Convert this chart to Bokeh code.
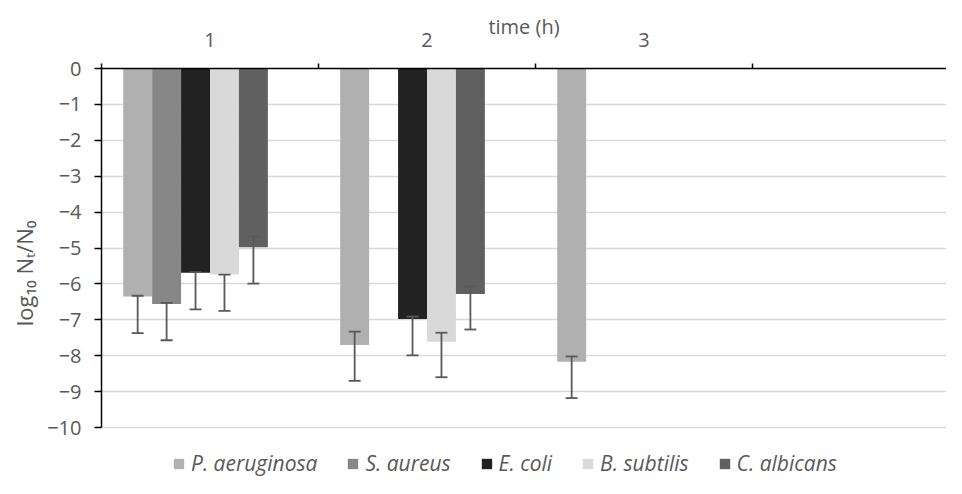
from bokeh.plotting import figure
from bokeh.models import (ColumnDataSource, LinearAxis, FixedTicker, Range1d,
                          Whisker, TeeHead, Legend, LegendItem)
from bokeh.embed import file_html
from bokeh.resources import INLINE

# ---------------- data ----------------
times = [1, 2, 3]
time_labels = ["1", "2", "3"]
species = ["P. aeruginosa", "S. aureus", "E. coli", "B. subtilis", "C. albicans"]
colors = ["#b0b0b0", "#878787", "#222222", "#d9d9d9", "#606060"]

# mean log10 Nt/N0 per time point (None = no bar)
p_aeruginosa = [-6.35, -7.70, -8.17]
s_aureus = [-6.56, None, None]
e_coli = [-5.69, -6.98, None]
b_subtilis = [-5.74, -7.61, None]
c_albicans = [-4.98, -6.28, None]

# error bar ends
p_aeruginosa_hi = [-6.33, -7.33, -8.02]
p_aeruginosa_lo = [-7.37, -8.70, -9.18]
s_aureus_hi = [-6.53, None, None]
s_aureus_lo = [-7.57, None, None]
e_coli_hi = [-5.67, -6.91, None]
e_coli_lo = [-6.71, -7.99, None]
b_subtilis_hi = [-5.74, -7.36, None]
b_subtilis_lo = [-6.75, -8.60, None]
c_albicans_hi = [-4.68, -6.07, None]
c_albicans_lo = [-5.99, -7.27, None]

y_ticks = list(range(-10, 1))

values = [p_aeruginosa, s_aureus, e_coli, b_subtilis, c_albicans]
highs = [p_aeruginosa_hi, s_aureus_hi, e_coli_hi, b_subtilis_hi, c_albicans_hi]
lows = [p_aeruginosa_lo, s_aureus_lo, e_coli_lo, b_subtilis_lo, c_albicans_lo]

N_SLOTS = 6          # series slots per category (Excel-like clustering)
GAP = 1.5            # gap width, in bar widths
slot_w = 1.0 / (N_SLOTS + GAP)

FONT = "Open Sans"
TXT = "#595959"

# layout (pixels)
W, H = 946, 478
LEFT, TOP = 101, 68
PX_PER_CAT = 217.0
PX_PER_UNIT = 35.9          # vertical pixels per log unit
x_end = 0.5 + (W - LEFT) / PX_PER_CAT
y_start = -(H - TOP) / PX_PER_UNIT   # extra room below -10 for the legend

p = figure(width=W, height=H,
           x_range=Range1d(0.5, x_end), y_range=Range1d(y_start, 0),
           x_axis_location=None, y_axis_location="left",
           output_backend="svg", toolbar_location=None,
           min_border_left=LEFT, min_border_right=0, min_border_top=TOP,
           min_border_bottom=0, outline_line_color=None,
           background_fill_color="white", border_fill_color="white")

legend_items = []
err_x, err_hi, err_lo = [], [], []
for i, (name, col, vals, his, los) in enumerate(zip(species, colors, values, highs, lows)):
    xs, ys = [], []
    for t, v, h, l in zip(times, vals, his, los):
        if v is None:
            continue
        xc = t - 0.5 + (GAP / 2 + i + 0.5) * slot_w
        xs.append(xc)
        ys.append(v)
        err_x.append(xc)
        err_hi.append(h)
        err_lo.append(l)
    src = ColumnDataSource(dict(x=xs, v=ys))
    r = p.vbar(x="x", top=0, bottom="v", width=slot_w, source=src,
               fill_color=col, line_color=None)
    legend_items.append(LegendItem(label=name, renderers=[r]))

esrc = ColumnDataSource(dict(x=err_x, hi=err_hi, lo=err_lo))
whisk = Whisker(source=esrc, base="x", upper="hi", lower="lo",
                line_color="#595959", line_width=1.8, level="overlay",
                upper_head=TeeHead(size=12, line_color="#595959", line_width=1.8),
                lower_head=TeeHead(size=12, line_color="#595959", line_width=1.8))
p.add_layout(whisk)

# grid
for g in p.xgrid:
    g.visible = False
p.ygrid.ticker = FixedTicker(ticks=y_ticks)
p.ygrid.grid_line_color = "#d9d9d9"
p.ygrid.grid_line_width = 1.5

# y axis
ya = p.yaxis[0]
ya.bounds = (-10, 0)
ya.ticker = FixedTicker(ticks=y_ticks)
ya.major_label_overrides = {t: ("\u2212" + str(-t) if t < 0 else str(t)) for t in y_ticks}
ya.axis_line_color = "black"
ya.axis_line_width = 1.5
ya.major_tick_line_color = "black"
ya.major_tick_line_width = 1.5
ya.major_tick_out = 7
ya.major_tick_in = 0
ya.minor_tick_line_color = None
ya.major_label_standoff = 13
ya.major_label_text_font = FONT
ya.major_label_text_font_size = "20px"
ya.major_label_text_color = TXT
ya.axis_label = "log\u2081\u2080 N\u209c/N\u2080"
ya.axis_label_text_font = FONT
ya.axis_label_text_font_size = "22px"
ya.axis_label_text_font_style = "normal"
ya.axis_label_text_color = TXT
ya.axis_label_standoff = 5

# top axis: category boundary tick marks
boundaries = [t + 0.5 for t in [0] + times]
tick_axis = LinearAxis(ticker=FixedTicker(ticks=boundaries),
                       major_label_overrides={b: "" for b in boundaries},
                       axis_line_color="black", axis_line_width=1.5,
                       major_tick_line_color="black", major_tick_line_width=1.5,
                       major_tick_out=5, major_tick_in=0,
                       minor_tick_line_color=None,
                       major_label_text_font_size="1px", major_label_standoff=0)
p.add_layout(tick_axis, "above")

# top axis: category labels and title
label_axis = LinearAxis(ticker=FixedTicker(ticks=times),
                        major_label_overrides={t: s for t, s in zip(times, time_labels)},
                        axis_line_color=None, major_tick_line_color=None,
                        minor_tick_line_color=None, major_label_standoff=11,
                        major_label_text_font=FONT, major_label_text_font_size="20px",
                        major_label_text_color=TXT,
                        axis_label="time (h)", axis_label_text_font=FONT,
                        axis_label_text_font_size="20px",
                        axis_label_text_font_style="normal",
                        axis_label_text_color=TXT, axis_label_standoff=-10)
p.add_layout(label_axis, "above")

legend = Legend(items=legend_items, orientation="horizontal", location=(71, 1),
                border_line_color=None, background_fill_alpha=0,
                label_text_font=FONT, label_text_font_size="21px",
                label_text_font_style="italic", label_text_color=TXT,
                glyph_width=13, glyph_height=13, label_standoff=6,
                spacing=29, padding=0, margin=0)
p.add_layout(legend, "center")

open("out.html", "w").write(file_html(p, INLINE))
